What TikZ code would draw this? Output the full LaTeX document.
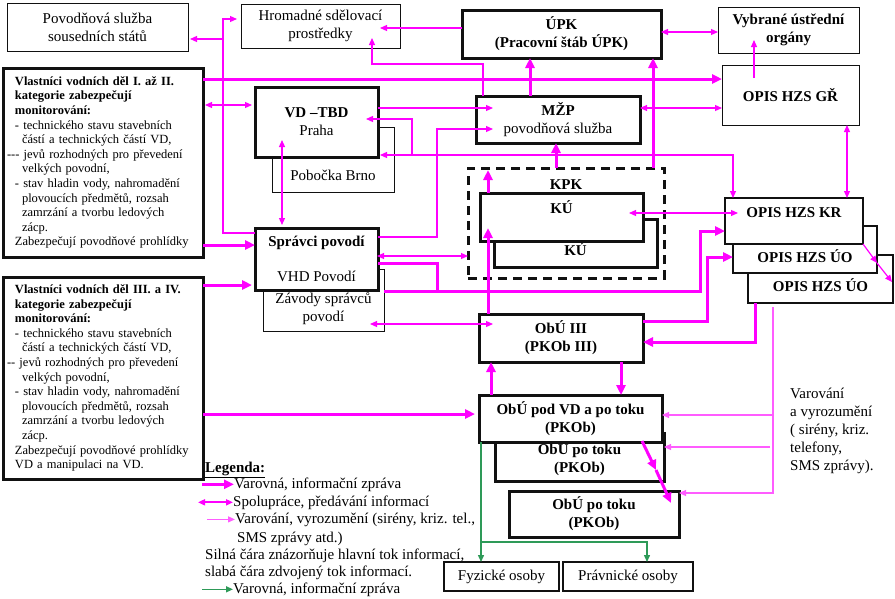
\documentclass[tikz,border=0pt]{standalone}
\usepackage{fontspec}
\setmainfont{Liberation Serif}
\usetikzlibrary{positioning, arrows.meta}
\definecolor{clrmain}{HTML}{FF00FF}
\definecolor{clrwarn}{HTML}{FF5CFF}
\definecolor{clrgreen}{HTML}{2E9A58}
\definecolor{clrborder}{HTML}{111111}
\definecolor{clrtext}{HTML}{000000}

\begin{document}
\begin{tikzpicture}[
    x=1pt, y=-1pt,
    every node/.style={font=\fontsize{15}{18}\selectfont, text=clrtext},
    thinbox/.style={draw=clrborder, fill=white, line width=1pt, outer sep=0pt,
                    anchor=north west, align=center, inner sep=2pt},
    thickbox/.style={thinbox, line width=3pt},
    midbox/.style={thinbox, line width=1.6pt},
    boldbox/.style={font=\fontsize{15}{18}\selectfont\bfseries},
    ownerbox/.style={thickbox, align=left, text width=176pt, inner xsep=12pt, inner ysep=0pt,
                     font=\fontsize{12.5}{14.6}\selectfont},
    kpkbox/.style={thinbox, fill=none, line width=3pt, dash pattern=on 9pt off 6pt},
    tag/.style={inner sep=0pt, align=center, font=\fontsize{15}{18}\selectfont\bfseries},
    tagreg/.style={inner sep=0pt, align=center, font=\fontsize{15}{18}\selectfont},
    legend/.style={inner sep=0pt, anchor=base west},
    mainarr/.style={draw=clrmain, line width=3pt, -{Triangle[length=10pt,width=9pt]}},
    mainline/.style={draw=clrmain, line width=3pt},
    infoarr/.style={draw=clrmain, line width=1.2pt, -{Triangle[length=7pt,width=6pt]}},
    cooparr/.style={draw=clrmain, line width=1.2pt, {Triangle[length=7pt,width=6pt]}-{Triangle[length=7pt,width=6pt]}},
    warnarr/.style={draw=clrwarn, line width=1.2pt, -{Triangle[length=7pt,width=6pt]}},
    greenarr/.style={draw=clrgreen, line width=1.4pt, -{Triangle[length=7pt,width=6pt]}},
]
\useasboundingbox (0,0) rectangle (895,598);

\node[thinbox, minimum width=181pt, minimum height=48pt] (n_sous) at (7,3) {Povodňová služba\\sousedních států};
\node[thinbox, minimum width=159pt, minimum height=44pt] (n_media) at (241,4) {Hromadné sdělovací\\prostředky};
\node[thickbox, boldbox, minimum width=199pt, minimum height=48pt] (n_upk) at (462,10) {ÚPK\\(Pracovní štáb ÚPK)};
\node[thinbox, boldbox, minimum width=141pt, minimum height=46pt] (n_ustr) at (718,7) {Vybrané ústřední\\orgány};
\node[thinbox, boldbox, minimum width=137pt, minimum height=60pt] (n_gr) at (722,65) {OPIS HZS GŘ};

\node[ownerbox, minimum width=200pt, minimum height=189pt] (n_own1) at (3,68) {\textbf{Vlastníci vodních děl I. až II.}\\
\textbf{kategorie zabezpečují}\\
\textbf{monitorování:}\\
- technického stavu stavebních\\
\hspace*{7pt}částí a technických částí VD,\\
\hspace*{-8pt}{-}{-}{-} jevů rozhodných pro převedení\\
\hspace*{7pt}velkých povodní,\\
- stav hladin vody, nahromadění\\
\hspace*{7pt}plovoucích předmětů, rozsah\\
\hspace*{7pt}zamrzání a tvorbu ledových\\
\hspace*{7pt}zácp.\\
Zabezpečují povodňové prohlídky};
\node[ownerbox, minimum width=200pt, minimum height=202pt] (n_own2) at (3,277) {\textbf{Vlastníci vodních děl III. a IV.}\\
\textbf{kategorie zabezpečují}\\
\textbf{monitorování:}\\
- technického stavu stavebních\\
\hspace*{7pt}částí a technických částí VD,\\
\hspace*{-8pt}{-}{-} jevů rozhodných pro převedení\\
\hspace*{7pt}velkých povodní,\\
- stav hladin vody, nahromadění\\
\hspace*{7pt}plovoucích předmětů, rozsah\\
\hspace*{7pt}zamrzání a tvorbu ledových\\
\hspace*{7pt}zácp.\\
Zabezpečují povodňové prohlídky\\
VD a manipulaci na VD.};

\node[thinbox, minimum width=122pt, minimum height=65pt] (n_brno) at (272,127) {};
\node[tagreg, above=11pt of n_brno.south] (n_brno_t) {Pobočka Brno};
\node[thickbox, minimum width=123pt, minimum height=70pt] (n_vd) at (255,87) {\textbf{VD –TBD}\\Praha};
\node[thickbox, minimum width=164pt, minimum height=47pt] (n_mzp) at (476,96) {\textbf{MŽP}\\povodňová služba};

\node[kpkbox, minimum width=196pt, minimum height=110pt] (n_kpk) at (468,168) {};
\node[tag, below=11pt of n_kpk.north] (n_kpk_t) {KPK};
\node[thickbox, minimum width=163pt, minimum height=48pt] (n_ku2) at (494,219) {};
\node[tag, above=11pt of n_ku2.south] (n_ku2_t) {KÚ};
\node[thickbox, minimum width=163pt, minimum height=48pt] (n_ku) at (480,193) {};
\node[tag, below=7pt of n_ku.north] (n_ku_t) {KÚ};

\node[midbox, minimum width=145pt, minimum height=48pt] (n_uo2) at (748,255) {};
\node[tag, above=11pt of n_uo2.south] (n_uo2_t) {OPIS HZS ÚO};
\node[midbox, minimum width=144pt, minimum height=47pt] (n_uo1) at (733,226) {};
\node[tag, above=10pt of n_uo1.south] (n_uo1_t) {OPIS HZS ÚO};
\node[midbox, minimum width=138pt, minimum height=46pt] (n_kr) at (725,198) {};
\node[tag, below=9pt of n_kr.north] (n_kr_t) {OPIS HZS KR};

\node[thinbox, minimum width=121pt, minimum height=62pt] (n_zav) at (263,269) {};
\node[tagreg, above=6pt of n_zav.south] (n_zav_t) {Závody správců\\povodí};
\node[thickbox, minimum width=123pt, minimum height=62pt] (n_spr) at (255,228) {\textbf{Správci povodí}\\[17pt]VHD Povodí};

\node[thickbox, boldbox, minimum width=164pt, minimum height=48pt] (n_obu3) at (479,314) {ObÚ III\\(PKOb III)};
\node[thickbox, minimum width=169pt, minimum height=48pt] (n_tok1) at (495,433) {};
\node[tag, above=5pt of n_tok1.south] (n_tok1_t) {ObÚ po toku\\(PKOb)};
\node[thickbox, boldbox, minimum width=183pt, minimum height=47pt] (n_obupod) at (479,395) {ObÚ pod VD a po toku\\(PKOb)};
\node[thickbox, boldbox, minimum width=170pt, minimum height=46pt] (n_tok2) at (509,491) {ObÚ po toku\\(PKOb)};
\node[midbox, minimum width=115pt, minimum height=29pt] (n_fyz) at (444,562) {Fyzické osoby};
\node[midbox, minimum width=130pt, minimum height=29pt] (n_prav) at (563,562) {Právnické osoby};

\node[inner sep=0pt, anchor=north west, align=left] (n_varov) at (790,388) {Varování\\a vyrozumění\\( sirény, kriz.\\telefony,\\SMS zprávy).};

\node[legend, font=\fontsize{15}{18}\selectfont\bfseries] (l_title) at (205,472) {\underline{Legenda:}};
\node[legend] (l_1) at (234,488) {Varovná, informační zpráva};
\node[legend] (l_2) at (233,506) {Spolupráce, předávání informací};
\node[legend] (l_3) at (235,523) {Varování, vyrozumění (sirény, kriz. tel.,};
\node[legend] (l_3b) at (237,542) {SMS zprávy atd.)};
\node[legend] (l_4) at (205,559) {Silná čára znázorňuje hlavní tok informací,};
\node[legend] (l_5) at (205,576) {slabá čára zdvojený tok informací.};
\node[legend] (l_6) at (233,593) {Varovná, informační zpráva};

\draw[infoarr] ([shift={(0,5)}]n_spr.north west) -- ++(-32,0) |- ([shift={(-4,15)}]n_media.north west);
\draw[infoarr] ([shift={(-18,35)}]n_media.north west) -- ([shift={(2,36)}]n_sous.north east);
\draw[infoarr] ([shift={(0,18)}]n_upk.north west) -- ([shift={(-20,24)}]n_media.north east);
\draw[infoarr] ([shift={(7,0)}]n_mzp.north west) -- ++(0,-32) -| ([shift={(131,-10)}]n_media.south west);
\draw[mainarr] ([shift={(0,11)}]n_own1.north east) -- ([shift={(0,14)}]n_gr.north west);
\draw[cooparr] ([shift={(2,37)}]n_own1.north east) -- ([shift={(-3,18)}]n_vd.north west);
\draw[infoarr] ([shift={(0,21)}]n_vd.north east) -- ([shift={(17,12)}]n_mzp.north west);
\draw[infoarr] ([shift={(0,9)}]n_spr.north east) -- ++(59,0) |- ([shift={(17,33)}]n_mzp.north west);
\draw[cooparr] ([shift={(27,-17)}]n_vd.south west) -- ([shift={(27,-3)}]n_spr.north west);
\draw[cooparr] ([shift={(2,-2)}]n_vd.south east) -| ([shift={(8,0)}]n_kr.north west);
\draw[infoarr] ([shift={(34,-2)}]n_vd.south east) |- ([shift={(-12,32)}]n_vd.north east);
\draw[cooparr] ([shift={(0,12)}]n_mzp.north east) -- ([shift={(0,43)}]n_gr.north west);
\draw[mainarr] ([shift={(54,0)}]n_mzp.north west) -- ([shift={(68,0)}]n_upk.south west);
\draw[mainarr] ([shift={(-11,0)}]n_kpk.north east) -- ([shift={(-8,0)}]n_upk.south east);
\draw[mainarr] ([shift={(88,0)}]n_kpk.north west) -- ([shift={(80,0)}]n_mzp.south west);
\draw[cooparr] ([shift={(0,22)}]n_upk.north east) -- ([shift={(0,25)}]n_ustr.north west);
\draw[infoarr] ([shift={(32,13)}]n_gr.north west) -- ([shift={(36,-13)}]n_ustr.south west);
\draw[cooparr] ([shift={(-12,0)}]n_gr.south east) -- ([shift={(-16,0)}]n_kr.north east);
\draw[mainarr] ([shift={(8,0)}]n_ku.north west) -- ([shift={(20,2)}]n_kpk.north west);
\draw[mainarr] ([shift={(9,0)}]n_obu3.north west) -- ([shift={(8,35)}]n_ku.north west);
\draw[cooparr] ([shift={(-14,20)}]n_ku.north east) -- ([shift={(13,15)}]n_kr.north west);
\draw[cooparr] ([shift={(-1,28)}]n_spr.north east) -- ([shift={(0,-22)}]n_kpk.south west);
\draw[mainline] ([shift={(0,35)}]n_spr.north east) -| ([shift={(53,22)}]n_zav.north east);
\draw[mainarr] ([shift={(0,22)}]n_zav.north east) -- ++(316,0) |- ([shift={(0,33)}]n_kr.north west);
\draw[cooparr] ([shift={(-14,55)}]n_zav.north east) -- ([shift={(14,10)}]n_obu3.north west);
\draw[mainarr] ([shift={(0,7)}]n_obu3.north east) -- ++(64,0) |- ([shift={(0,31)}]n_uo1.north west);
\draw[mainarr] ([shift={(7,0)}]n_uo2.south west) |- ([shift={(0,-20)}]n_obu3.south east);
\draw[infoarr] (n_kr.south east) -- ([shift={(0,-10)}]n_uo1.south east);
\draw[infoarr] ([shift={(0,-10)}]n_uo1.south east) -- ([shift={(-1,-21)}]n_uo2.south east);
\draw[mainarr] ([shift={(0,-12)}]n_own1.south east) -- ([shift={(0,17)}]n_spr.north west);
\draw[mainarr] ([shift={(0,8)}]n_own2.north east) -- ([shift={(-3,-5)}]n_spr.south west);
\draw[mainarr] ([shift={(0,137)}]n_own2.north east) -- ([shift={(-4,19)}]n_obupod.north west);
\draw[mainarr] ([shift={(12,0)}]n_obupod.north west) -- ([shift={(12,0)}]n_obu3.south west);
\draw[mainarr] ([shift={(-22,0)}]n_obu3.south east) -- ([shift={(142,0)}]n_obupod.north west);
\draw[mainarr] ([shift={(-20,-1)}]n_obupod.south east) -- ([shift={(-8,37)}]n_tok1.north east);
\draw[mainarr] ([shift={(-8,37)}]n_tok1.north east) -- ([shift={(-8,12)}]n_tok2.north east);
\draw[warnarr] ([shift={(25,4)}]n_uo2.south west) |- ([shift={(0,2)}]n_tok2.north east);
\draw[warnarr] ([shift={(111,20)}]n_obupod.north east) -- ([shift={(0,20)}]n_obupod.north east);
\draw[warnarr] ([shift={(106,14)}]n_tok1.north east) -- ([shift={(0,14)}]n_tok1.north east);
\draw[greenarr] ([shift={(2,0)}]n_obupod.south west) -- ([shift={(37,0)}]n_fyz.north west);
\draw[greenarr] ([shift={(37,-20)}]n_fyz.north west) -| ([shift={(84,0)}]n_prav.north west);

\draw[mainarr, line width=2.5pt] ([xshift=-32pt]l_1.west) -- (l_1.west);
\draw[cooparr, line width=1.8pt] ([xshift=-35pt]l_2.west) -- (l_2.west);
\draw[warnarr] ([xshift=-28pt]l_3.west) -- (l_3.west);
\draw[greenarr] ([xshift=-31pt]l_6.west) -- (l_6.west);
\end{tikzpicture}
\end{document}
